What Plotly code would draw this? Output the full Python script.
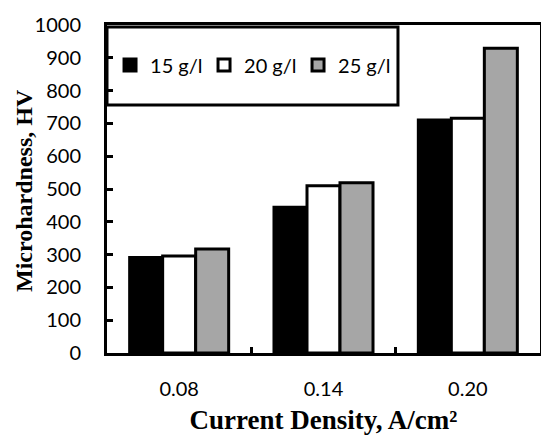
import plotly.graph_objects as go

categories = ["0.08", "0.14", "0.20"]
series_names = ["15 g/l", "20 g/l", "25 g/l"]
values_15 = [291, 444, 710]
values_20 = [296, 510, 716]
values_25 = [317, 519, 929]
fill_colors = ["#000000", "#ffffff", "#a6a6a6"]
x_title = "<b>Current Density, A/cm²</b>"
y_title = "<b>Microhardness, HV</b>"

fig = go.Figure()
for name, vals, col in zip(series_names, [values_15, values_20, values_25], fill_colors):
    fig.add_trace(go.Bar(
        x=categories, y=vals, name=name,
        marker=dict(color=col, line=dict(color="#000000", width=3)),
    ))

tick_font = dict(family="Lato", size=20, color="#000000")

fig.update_layout(
    width=541, height=435,
    margin=dict(l=107, r=1, t=25, b=82),
    paper_bgcolor="white", plot_bgcolor="white",
    barmode="group", bargap=0.314, bargroupgap=0,
    showlegend=True,
    legend=dict(
        orientation="h", x=0.007, y=0.878, xanchor="left", yanchor="middle",
        bgcolor="rgba(0,0,0,0)", borderwidth=0,
        font=dict(family="Lato", size=20, color="#000000"),
        entrywidth=49, entrywidthmode="pixels",
        itemwidth=30, traceorder="normal",
    ),
    shapes=[dict(type="rect", xref="paper", yref="paper",
                 x0=0.0, x1=0.672, y0=0.756, y1=0.994,
                 line=dict(color="#000000", width=3), fillcolor="white",
                 layer="below")],
    annotations=[dict(text=y_title, xref="paper", yref="paper", x=0, y=0.5,
                      xanchor="center", yanchor="middle", xshift=-83, yshift=-2,
                      textangle=-90, showarrow=False,
                      font=dict(family="Liberation Serif", size=24, color="#000000"))],
    xaxis=dict(
        type="category", showline=True, linecolor="#000000", linewidth=3, mirror=True,
        ticks="inside", tickson="boundaries", ticklen=6, tickwidth=3, tickcolor="#000000",
        tickfont=tick_font, ticklabelstandoff=16, showgrid=False, automargin=False,
        title=dict(text=x_title,
                   font=dict(family="Liberation Serif", size=27, color="#000000"), standoff=13),
    ),
    yaxis=dict(
        range=[0, 1000], dtick=100, showline=True, linecolor="#000000", linewidth=3, mirror=True,
        ticks="inside", ticklen=6, tickwidth=3, tickcolor="#000000",
        tickfont=tick_font, ticklabelstandoff=19, showgrid=False, zeroline=False,
        automargin=False,
    ),
)

fig.write_html("out.html", config={"displayModeBar": False},
               post_script="document.body.style.margin='0';document.body.style.overflow='hidden';")
